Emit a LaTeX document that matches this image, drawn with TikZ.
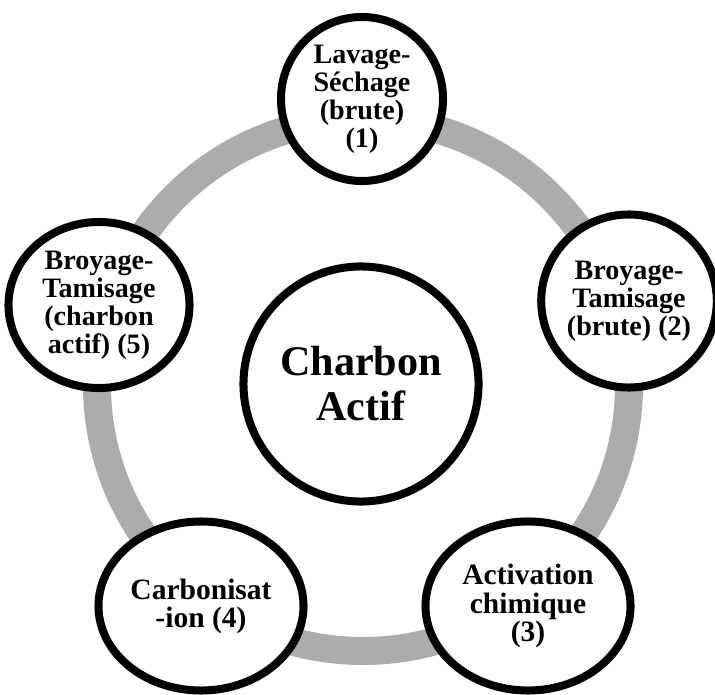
\documentclass[tikz,border=0pt]{standalone}
\usepackage{fontspec}
\setmainfont{Liberation Serif}
\usetikzlibrary{shapes.geometric, shadows}

\begin{document}
\begin{tikzpicture}[x=0.025cm, y=-0.025cm,
    etape/.style={draw, ellipse, fill=white, line width=5.7pt, inner sep=0pt,
        align=center, font=\fontsize{20}{20}\selectfont\bfseries,
        drop shadow={opacity=0.25, shadow xshift=1.5pt, shadow yshift=-1.5pt}},
    grand/.style={font=\fontsize{21}{20}\selectfont\bfseries}]

    \useasboundingbox (0,0) rectangle (715,695);

    % Anneau gris
    \draw[line width=0.7cm, gray!65] (363,385) circle (266);

    % Cercle central
    \node[etape, minimum width=5.875cm, minimum height=5.875cm,
        font=\fontsize{30}{32}\selectfont\bfseries] (ca) at (361,384) {Charbon\\Actif};

    % Etapes (dans l'ordre)
    \node[etape, minimum width=4.05cm, minimum height=4.1cm] (e1) at (362,99)
        {Lavage-\\Séchage\\(brute)\\(1)};
    \node[etape, minimum width=4.1cm, minimum height=4.325cm] (e2) at (629,301)
        {Broyage-\\Tamisage\\(brute) (2)};
    \node[etape, grand, minimum width=5.125cm, minimum height=4.225cm] (e3) at (528,606)
        {Activation\\chimique\\(3)};
    \node[etape, grand, minimum width=5.125cm, minimum height=4.225cm] (e4) at (201,606)
        {Carbonisat\\-ion (4)};
    \node[etape, minimum width=4.525cm, minimum height=4.15cm] (e5) at (99,305)
        {Broyage-\\Tamisage\\(charbon\\actif) (5)};

\end{tikzpicture}
\end{document}
